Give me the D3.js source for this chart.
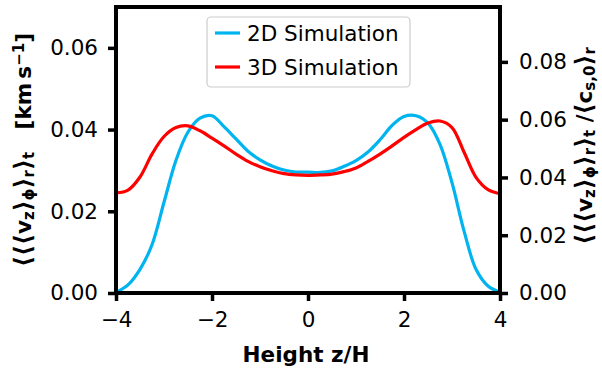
<!DOCTYPE html>
<html>
<head>
<meta charset="utf-8">
<script src="https://cdn.jsdelivr.net/npm/d3@7/dist/d3.min.js"></script>
<style>
  html, body { margin: 0; padding: 0; background: #fff; }
  svg { display: block; font-family: "DejaVu Sans", sans-serif; }
</style>
</head>
<body>
<svg id="chart" width="602" height="370"></svg>
<script>
// Height above the midplane, in units of the scale height H
const zValues = [-4, -3.75, -3.5, -3.25, -3, -2.75, -2.5, -2.25, -2, -1.75, -1.5, -1.25, -1,
  -0.75, -0.5, -0.25, 0, 0.25, 0.5, 0.75, 1, 1.25, 1.5, 1.75, 2, 2.25, 2.5, 2.75, 3, 3.25, 3.5, 3.75, 4];

// Time- and radially-averaged vertical velocity [km/s]
const sim2D = [0.0002, 0.0020, 0.0058, 0.0118, 0.0222, 0.0325, 0.0394, 0.0428, 0.0434, 0.0407,
  0.0377, 0.0347, 0.0326, 0.0311, 0.0301, 0.0296, 0.0296, 0.0295, 0.0299, 0.0310, 0.0324,
  0.0345, 0.0375, 0.0410, 0.0432, 0.0434, 0.0416, 0.0364, 0.0270, 0.0152, 0.0058, 0.0017, 0.0002];

const sim3D = [0.0245, 0.0252, 0.0284, 0.0340, 0.0383, 0.0405, 0.0409, 0.0397, 0.0379, 0.0360,
  0.0340, 0.0322, 0.0309, 0.0299, 0.0292, 0.0289, 0.0288, 0.0289, 0.0291, 0.0297, 0.0306,
  0.0322, 0.0340, 0.0360, 0.0381, 0.0400, 0.0416, 0.0421, 0.0405, 0.0345, 0.0283, 0.0253, 0.0243];

const seriesNames = ["2D Simulation", "3D Simulation"];
const seriesColors = ["#00b4ef", "#ff0000"];

const xTicks = [-4, -2, 0, 2, 4];
const yLeftTicks = [0, 0.02, 0.04, 0.06];
const yRightTicks = [0, 0.02, 0.04, 0.06, 0.08];

// Mean sound speed at the midplane used for the normalised axis
const soundSpeed = Math.SQRT1_2;
const yLeftMax = 0.07;

const svg = d3.select("#chart");
const plot = { left: 116, right: 500, top: 7, bottom: 293 };

const x = d3.scaleLinear().domain([-4, 4]).range([plot.left, plot.right]);
const yL = d3.scaleLinear().domain([0, yLeftMax]).range([plot.bottom, plot.top]);
const yR = d3.scaleLinear().domain([0, yLeftMax / soundSpeed]).range([plot.bottom, plot.top]);

const fmt = d3.format(".2f");

// Clip the curves to the axes box
svg.append("defs").append("clipPath").attr("id", "clip")
  .append("rect")
  .attr("x", plot.left).attr("y", plot.top)
  .attr("width", plot.right - plot.left).attr("height", plot.bottom - plot.top);

const line = d3.line()
  .x((d, i) => x(zValues[i]))
  .y(d => yL(d))
  .curve(d3.curveCatmullRom.alpha(0.5));

[sim2D, sim3D].forEach((vals, k) => {
  svg.append("path")
    .attr("clip-path", "url(#clip)")
    .attr("d", line(vals))
    .attr("fill", "none")
    .attr("stroke", seriesColors[k])
    .attr("stroke-width", 3.2)
    .attr("stroke-linejoin", "round")
    .attr("stroke-linecap", "butt");
});

function styleAxis(g) {
  g.select(".domain").remove();
  g.selectAll(".tick line").attr("stroke", "#000").attr("stroke-width", 3.5);
  g.selectAll(".tick text")
    .attr("fill", "#000")
    .style("font-size", "21.5px")
    .style("font-family", "'DejaVu Sans', sans-serif");
}

svg.append("g")
  .attr("transform", `translate(0,${plot.bottom})`)
  .call(d3.axisBottom(x).tickValues(xTicks).tickSize(8).tickPadding(11).tickFormat(d3.format("d")))
  .call(styleAxis);

svg.append("g")
  .attr("transform", `translate(${plot.left},0)`)
  .call(d3.axisLeft(yL).tickValues(yLeftTicks).tickSize(8).tickPadding(10).tickFormat(fmt))
  .call(styleAxis);

svg.append("g")
  .attr("transform", `translate(${plot.right},0)`)
  .call(d3.axisRight(yR).tickValues(yRightTicks).tickSize(8).tickPadding(11).tickFormat(fmt))
  .call(styleAxis);

// Axes frame
svg.append("rect")
  .attr("x", plot.left).attr("y", plot.top)
  .attr("width", plot.right - plot.left).attr("height", plot.bottom - plot.top)
  .attr("fill", "none").attr("stroke", "#000").attr("stroke-width", 4);

// X axis label
svg.append("text")
  .attr("x", (plot.left + plot.right) / 2 - 2)
  .attr("y", 362)
  .attr("text-anchor", "middle")
  .style("font-size", "21.5px")
  .style("font-weight", "bold")
  .text("Height z/H");

// Rotated y labels built from tspans for sub/superscripts
function addPart(t, str, kind) {
  const ts = t.append("tspan").text(str);
  if (kind === "sub") ts.attr("baseline-shift", "-22%").style("font-size", "15px");
  if (kind === "sup") ts.attr("baseline-shift", "45%").style("font-size", "15px");
  if (kind === "br") ts.style("font-size", "24px");
  return ts;
}

const avgParts = [
  ["⟨⟨⟨", "br"], ["v"], ["z", "sub"], ["⟩", "br"], ["ϕ", "sub"], ["⟩", "br"], ["r", "sub"], ["⟩", "br"], ["t", "sub"]
];

const leftLabel = svg.append("text")
  .attr("transform", `translate(31,${(plot.top + plot.bottom) / 2}) rotate(-90)`)
  .attr("text-anchor", "middle")
  .style("font-size", "21.5px")
  .style("font-weight", "bold");
avgParts.forEach(p => addPart(leftLabel, p[0], p[1]));
leftLabel.append("tspan").text("\u00a0\u00a0\u00a0[km\u2009s");
addPart(leftLabel, "−1", "sup");
leftLabel.append("tspan").text("]");

const rightLabel = svg.append("text")
  .attr("transform", `translate(592,${(plot.top + plot.bottom) / 2 - 4}) rotate(-90)`)
  .attr("text-anchor", "middle")
  .style("font-size", "21.5px")
  .style("font-weight", "bold");
avgParts.forEach(p => addPart(rightLabel, p[0], p[1]));
rightLabel.append("tspan").text("\u00a0/");
addPart(rightLabel, "⟨", "br");
rightLabel.append("tspan").text("c");
addPart(rightLabel, "s,0", "sub");
addPart(rightLabel, "⟩", "br");
addPart(rightLabel, "r", "sub");

// Legend
const legend = svg.append("g");
legend.append("rect")
  .attr("x", 207).attr("y", 17).attr("width", 203).attr("height", 70)
  .attr("rx", 4).attr("fill", "#fff").attr("fill-opacity", 0.8)
  .attr("stroke", "#cccccc").attr("stroke-width", 1.2);
seriesNames.forEach((name, i) => {
  const yy = 33 + i * 34;
  legend.append("line")
    .attr("x1", 215).attr("x2", 240).attr("y1", yy).attr("y2", yy)
    .attr("stroke", seriesColors[i]).attr("stroke-width", 3.2);
  legend.append("text")
    .attr("x", 247).attr("y", yy + 8)
    .style("font-size", "21.5px")
    .text(name);
});
</script>
</body>
</html>
